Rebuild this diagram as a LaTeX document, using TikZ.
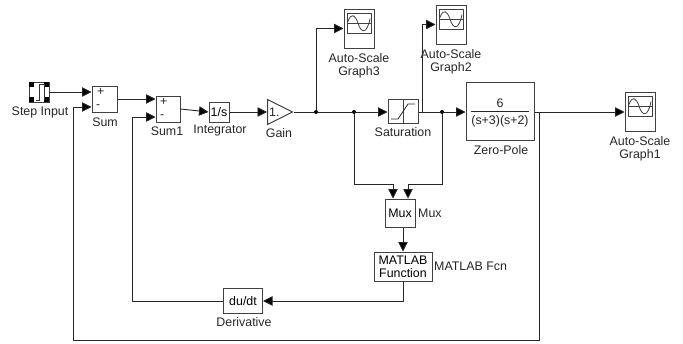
\documentclass[tikz,border=0pt]{standalone}
\usepackage{fontspec}
\setmainfont{Liberation Sans}
\usetikzlibrary{calc, arrows.meta, shapes.geometric}

\tikzset{
    blockbox/.style={draw=black!75, line width=1pt, fill=white, inner sep=0pt, align=center, font=\fontsize{12.4}{12.7}\selectfont},
    blocktext/.style={inner sep=0pt, align=center, text=black!85, font=\fontsize{12.4}{12.7}\selectfont},
    wire/.style={draw=black!85, line width=0.9pt},
    signal/.style={wire, -{Triangle[length=9.5pt, width=9.5pt, fill=black]}},
    junction/.style={circle, fill=black, inner sep=0pt, minimum size=4pt},
    graphbox/.style={blockbox, minimum width=30pt, minimum height=39pt},
}

\begin{document}
\begin{tikzpicture}[x=1pt, y=-1pt]
    \useasboundingbox (0, 0) rectangle (683, 343);

    % blocks
    \node[blockbox, minimum width=20pt, minimum height=20pt] (stepin) at (39, 92) {};
    \node[blockbox, minimum width=25pt, minimum height=26pt] (sum) at (104.5, 99) {};
    \node[blockbox, minimum width=24pt, minimum height=26pt] (sumone) at (168, 109) {};
    \node[blockbox, minimum width=20pt, minimum height=20pt] (integrator) at (219, 112) {1/s};
    \node[blockbox, isosceles triangle, isosceles triangle stretches, minimum width=25pt, minimum height=25pt, anchor=lower side] (gain) at (267, 112) {};
    \node[graphbox] (graphthree) at (359, 28.5) {};
    \node[graphbox] (graphtwo) at (451, 24.5) {};
    \node[graphbox] (graphone) at (640, 111.5) {};
    \node[blockbox, minimum width=30pt, minimum height=24pt] (saturation) at (403, 111) {};
    \node[blockbox, minimum width=68pt, minimum height=58pt] (zeropole) at (500, 111) {};
    \node[blockbox, minimum width=30pt, minimum height=28pt] (mux) at (400, 213) {Mux};
    \node[blockbox, minimum width=58pt, minimum height=29pt] (matlab) at (403, 266.5) {MATLAB\\Function};
    \node[blockbox, minimum width=39pt, minimum height=25pt] (derivative) at (243, 301) {du/dt};

    % block details
    \node[blocktext, anchor=west] (gainval) at (269, 112) {1.};
    \node[blocktext, anchor=west] (sumplus) at (97, 92) {+};
    \node[blocktext, anchor=west] (summinus) at (96, 107) {-};
    \node[blocktext, anchor=west] (sumoneplus) at (160, 102) {+};
    \node[blocktext, anchor=west] (sumoneminus) at (160, 117) {-};
    \foreach \dx/\dy in {-7.5/-7.5, 7.5/-7.5, -7.5/7.5, 7.5/7.5}
        \fill ($(stepin) + (\dx, \dy)$) +(-2.5, -2.5) rectangle +(2.5, 2.5);
    \draw[black!80, line width=0.8pt] ($(stepin) + (-3, 8)$) -- ++(3, 0) -- ++(0, -16) -- ++(5, 0) -- ++(0, 16);
    \foreach \graph in {graphone, graphtwo, graphthree} {
        \draw[black!75, line width=1pt] ($(\graph) + (-12, -15.5)$) rectangle ($(\graph) + (12, 4.5)$);
        \draw[black!75, line width=0.8pt] ($(\graph) + (-12, -5.5)$) -- ($(\graph) + (12, -5.5)$);
        \draw[black!75, line width=0.8pt] ($(\graph) + (-11, -7)$) .. controls ($(\graph) + (-8, -16)$) and ($(\graph) + (-4, -14)$) .. ($(\graph) + (-1, -5.5)$)
            .. controls ($(\graph) + (2, 5)$) and ($(\graph) + (8, 6)$) .. ($(\graph) + (11, -10)$);
    }
    \draw[black!75, line width=0.8pt] (saturation.north) -- (saturation.south);
    \draw[black!85, line width=0.8pt] ($(saturation) + (-12, 8)$) -- ($(saturation) + (-5, 8)$) -- ($(saturation) + (5, -7)$) -- ($(saturation) + (12, -7)$);
    \draw[black!85, line width=0.8pt] ($(zeropole) + (-29, 0)$) -- ($(zeropole) + (29, 0)$);
    \node[blocktext] (zeropolenum) at (500, 103) {6};
    \node[blocktext] (zeropoleden) at (500, 121) {(s+3)(s+2)};

    % labels
    \node[blocktext] (steplabel) at (40, 112) {Step Input};
    \node[blocktext] (sumlabel) at (105, 122) {Sum};
    \node[blocktext] (sumonelabel) at (167, 131) {Sum1};
    \node[blocktext] (integratorlabel) at (220, 131) {Integrator};
    \node[blocktext] (gainlabel) at (279, 133) {Gain};
    \node[blocktext] (graphthreelabel) at (359, 66) {Auto-Scale\\Graph3};
    \node[blocktext] (graphtwolabel) at (451, 62) {Auto-Scale\\Graph2};
    \node[blocktext] (graphonelabel) at (640, 149) {Auto-Scale\\Graph1};
    \node[blocktext] (saturationlabel) at (403, 132) {Saturation};
    \node[blocktext] (zeropolelabel) at (501, 150) {Zero-Pole};
    \node[blocktext, anchor=west] (muxlabel) at (418, 213) {Mux};
    \node[blocktext, anchor=west] (matlablabel) at (434, 266) {MATLAB Fcn};
    \node[blocktext] (derivativelabel) at (244, 322) {Derivative};

    % branch points
    \node[junction] (branchgain) at (316, 112) {};
    \node[junction] (branchsatin) at (354, 112) {};
    \node[junction] (branchsatout) at (442, 112) {};
    \coordinate (branchgraphtwo) at (422, 112);
    \coordinate (branchzeropole) at (539, 112);
    \coordinate (muxleft) at (393, 184);
    \coordinate (muxright) at (408, 184);
    \coordinate (summinusin) at (73, 107);
    \coordinate (sumoneminusin) at (132, 117);
    \coordinate (fbsumone) at (132, 301);
    \coordinate (fbbottomright) at (539, 340);
    \coordinate (fbbottomleft) at (73, 340);
    \coordinate (fbmatlab) at (403, 301);

    % signals
    \draw[signal] (stepin.east) -- (stepin -| sum.west);
    \draw[signal] (sum.east) -- (sum.east -| sumone.west);
    \draw[signal] (sumone.east) -- (integrator.west);
    \draw[signal] (integrator.east) -- (gain.lower side);
    \draw[wire] (gain.apex) -- (branchgain);
    \draw[signal] (branchgain) -- (branchsatin) -- (saturation.west |- branchsatin);
    \draw[signal] (branchgain) |- (graphthree.west);
    \draw[signal] (saturation.east |- branchsatout) -- (branchsatout) -- (zeropole.west |- branchsatout);
    \draw[signal] (branchgraphtwo) |- (graphtwo.west);
    \draw[signal] (zeropole.east |- branchzeropole) -- (graphone.west |- branchzeropole);
    \draw[signal] (branchsatin) |- (muxleft) -- (muxleft |- mux.north);
    \draw[signal] (branchsatout) |- (muxright) -- (muxright |- mux.north);
    \draw[signal] (fbmatlab |- mux.south) -- (fbmatlab |- matlab.north);
    \draw[signal] (matlab.south) -- (fbmatlab) -- (derivative.east);
    \draw[signal] (derivative.west) -- (fbsumone) -- (sumoneminusin) -- (sumoneminusin -| sumone.west);
    \draw[signal] (branchzeropole) -- (fbbottomright) -- (fbbottomleft) -- (summinusin) -- (summinusin -| sum.west);
\end{tikzpicture}
\end{document}
